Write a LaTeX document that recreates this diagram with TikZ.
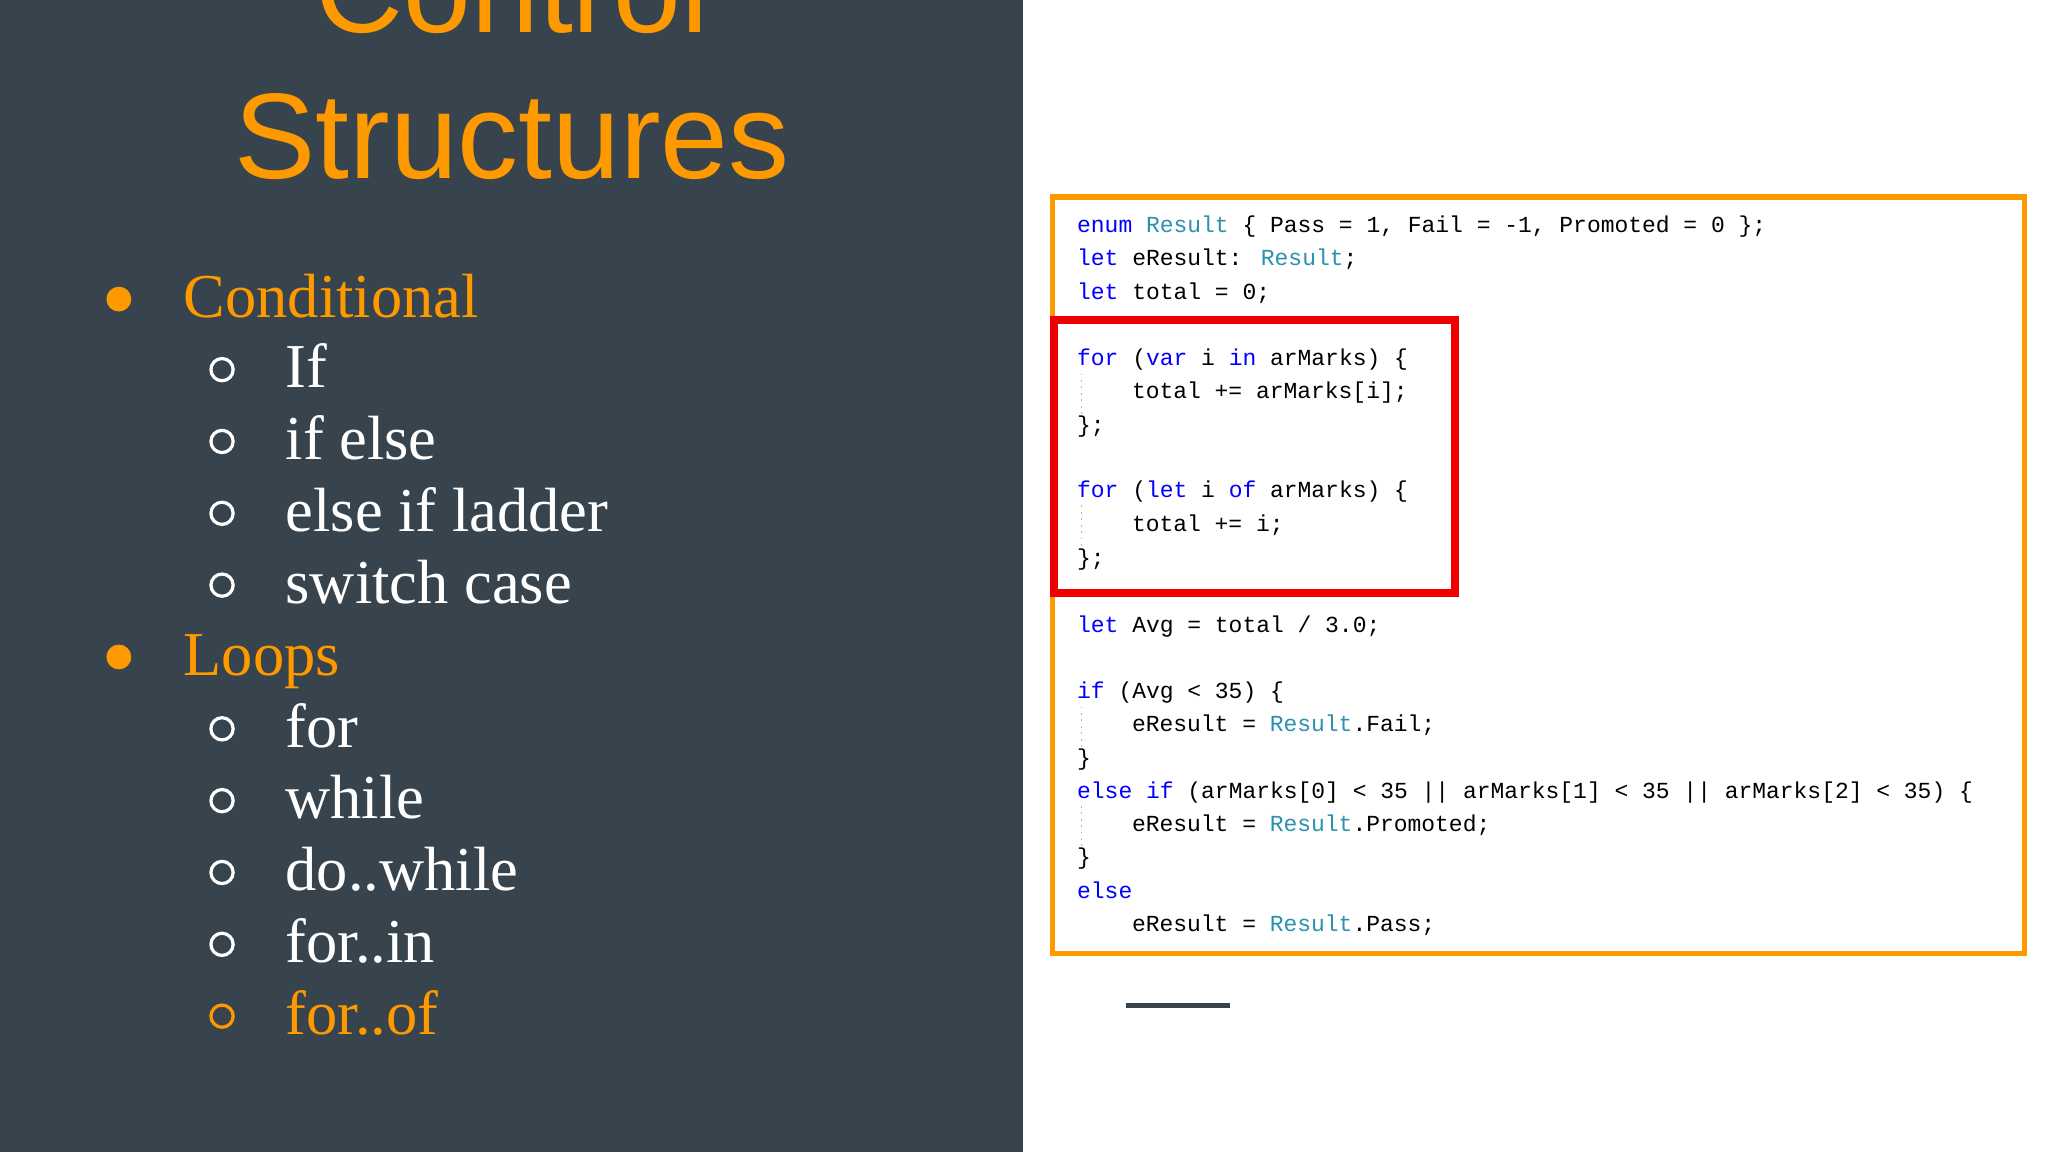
\documentclass[tikz,border=0pt]{standalone}
\usepackage{fontspec}
\setmainfont{Liberation Serif}
\newfontfamily\titlefont{Liberation Sans}
\newfontfamily\codefont{Liberation Mono}
\definecolor{panel}{HTML}{37444D}
\definecolor{orng}{HTML}{FF9900}
\definecolor{kw}{HTML}{0000FF}
\definecolor{ty}{HTML}{2B91AF}
\definecolor{redbox}{HTML}{EE0000}
\newcommand{\K}[1]{\textcolor{kw}{#1}}
\newcommand{\T}[1]{\textcolor{ty}{#1}}
\begin{document}
\begin{tikzpicture}[x=0.01cm,y=-0.01cm,
  title/.style={font=\titlefont\fontsize{26.5}{26.5}\selectfont,text=orng,anchor=base},
  main/.style={font=\fontsize{13.6}{13.6}\selectfont,text=orng,anchor=base west,inner sep=0},
  sub/.style={font=\fontsize{13.6}{13.6}\selectfont,text=white,anchor=base west,inner sep=0},
  code/.style={font=\codefont\fontsize{5}{5}\selectfont,anchor=base west,inner sep=0},
  hollow/.style={draw=white,line width=0.7pt,circle,minimum size=0.17cm,inner sep=0},
  dot/.style={fill=orng,circle,minimum size=0.19cm,inner sep=0}]
\useasboundingbox (0,0) rectangle (1568,882);
\fill[white] (0,0) rectangle (1568,882);
\fill[panel] (0,0) rectangle (783,882);
\node[title] (t1) at (392,25) {Control};
\node[title] (t2) at (392,137) {Structures};
\node[dot] (b1) at (91,229) {};
\node[main] (m1) at (140,243) {Conditional};
\foreach \i/\t in {1/If,2/if else,3/else if ladder,4/switch case}{
  \node[hollow] (c\i) at (170,283+55*\i-55) {};
  \node[sub] (s\i) at (218,297+55*\i-55) {\t};}
\node[dot] (b2) at (91,503) {};
\node[main] (m2) at (140,517) {Loops};
\foreach \i/\t in {5/for,6/while,7/do..while,8/for..in}{
  \node[hollow] (c\i) at (170,558+55*\i-275) {};
  \node[sub] (s\i) at (218,572+55*\i-275) {\t};}
\node[hollow,draw=orng] (c9) at (170,778) {};
\node[sub,text=orng] (s9) at (218,792) {for..of};
% code box
\draw[orng,line width=1.2pt] (806,151) rectangle (1550,730);
\draw[redbox,line width=1.6pt] (807,245) rectangle (1114,454);
\draw[gray!60,densely dotted] (828,286) -- (828,318);
\draw[gray!60,densely dotted] (828,387) -- (828,420);
\draw[gray!60,densely dotted] (828,541) -- (828,573);
\draw[gray!60,densely dotted] (828,617) -- (828,649);
\def\L{824}\def\I{866}
\node[code] (l1) at (\L,178) {\K{enum} \T{Result} \{ Pass = 1, Fail = -1, Promoted = 0 \};};
\node[code] (l2) at (\L,203) {\K{let} eResult: \T{Result};};
\node[code] (l3) at (\L,229) {\K{let} total = 0;};
\node[code] (l4) at (\L,280) {\K{for} (\K{var} i \K{in} arMarks) \{};
\node[code] (l5) at (\I,305) {total += arMarks[i];};
\node[code] (l6) at (\L,331) {\};};
\node[code] (l7) at (\L,381) {\K{for} (\K{let} i \K{of} arMarks) \{};
\node[code] (l8) at (\I,407) {total += i;};
\node[code] (l9) at (\L,433) {\};};
\node[code] (l10) at (\L,484) {\K{let} Avg = total / 3.0;};
\node[code] (l11) at (\L,535) {\K{if} (Avg < 35) \{};
\node[code] (l12) at (\I,560) {eResult = \T{Result}.Fail;};
\node[code] (l13) at (\L,586) {\}};
\node[code] (l14) at (\L,611) {\K{else} \K{if} (arMarks[0] < 35 || arMarks[1] < 35 || arMarks[2] < 35) \{};
\node[code] (l15) at (\I,637) {eResult = \T{Result}.Promoted;};
\node[code] (l16) at (\L,662) {\}};
\node[code] (l17) at (\L,688) {\K{else}};
\node[code] (l18) at (\I,713) {eResult = \T{Result}.Pass;};
\coordinate (u1) at (862,770); \coordinate (u2) at (942,770);
\draw[panel,line width=1pt] (u1) -- (u2);
\end{tikzpicture}
\end{document}
